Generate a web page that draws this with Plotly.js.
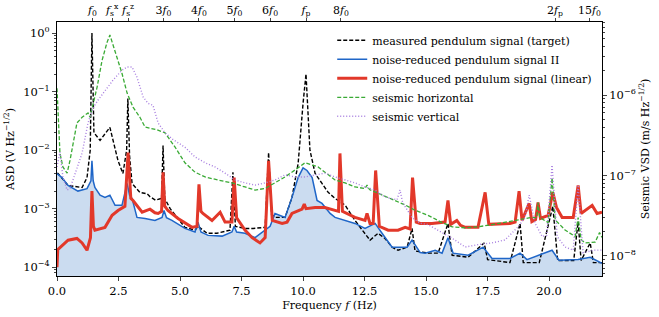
<!DOCTYPE html>
<html><head><meta charset="utf-8">
<script src="https://cdn.plot.ly/plotly-3.0.1.min.js"></script>
<style>html,body{margin:0;padding:0;background:#fff}#chart{width:659px;height:317px}</style>
</head><body><div id="chart"></div>
<script>
// ---- data (frequency in Hz) ----
const measuredF = [0.0,0.04,0.45,1.02,1.22,1.35,1.42,1.50,1.54,1.75,2.15,2.48,2.68,2.83,2.88,2.95,3.05,3.37,3.66,3.78,4.0,4.25,4.31,4.38,4.6,4.92,5.2,5.61,5.73,6.1,6.5,7.03,7.15,7.25,7.64,7.97,8.46,8.6,8.72,8.86,9.27,9.55,9.8,10.0,10.12,10.28,10.49,10.77,11.02,11.3,11.71,12.11,12.4,12.72,13.05,13.33,13.62,13.86,14.23,14.43,14.55,15.08,15.49,15.89,16.06,16.71,17.36,17.5,18.41,18.82,18.95,19.6,20.15,20.35,21.0,21.18,21.3,21.67,21.8,22.15];
const measuredV = [0.0040,0.0040,0.0025,0.0023,0.0034,0.01,1.0,0.02,0.019,0.0147,0.0245,0.0066,0.0040,0.01,0.076,0.008,0.0027,0.0019,0.0018,0.0016,0.0014,0.0015,0.012,0.0015,0.0010,0.00068,0.00048,0.00043,0.0005,0.00038,0.00038,0.00043,0.0042,0.0005,0.00046,0.00046,0.00048,0.0091,0.0008,0.00071,0.00071,0.00156,0.0059,0.063,0.20,0.010,0.0040,0.0027,0.0019,0.0015,0.00115,0.00063,0.00043,0.00029,0.00038,0.00031,0.00022,0.000195,0.00022,0.00046,0.00019,0.000174,0.000174,0.00056,0.00016,0.000148,0.00026,0.000135,0.00012,0.00056,0.00012,0.00012,0.0011,0.00013,0.00013,0.0006,0.00013,0.00026,0.00012,0.00012];

const reducedIIF = [0.0,0.2,0.45,0.85,1.22,1.38,1.42,1.47,1.54,1.75,1.95,2.15,2.36,2.64,2.85,2.95,3.05,3.25,3.58,3.98,4.27,4.35,4.45,4.67,5.2,5.61,5.73,5.85,6.14,6.71,7.11,7.2,7.3,7.64,8.05,8.46,8.66,8.86,9.27,9.55,9.8,10.0,10.16,10.37,10.57,10.77,11.1,11.3,11.71,12.11,12.52,12.93,13.21,13.62,14.23,14.43,14.76,14.96,15.37,15.65,15.89,16.1,16.71,17.32,17.68,18.41,18.82,19.1,20.12,20.4,21.18,21.67,22.15];
const reducedIIV = [0.0040,0.0034,0.0025,0.0020,0.0022,0.0030,0.0066,0.0030,0.0023,0.0017,0.00156,0.0017,0.00114,0.00114,0.0027,0.0017,0.0015,0.00071,0.00068,0.00063,0.00071,0.00093,0.0007,0.00063,0.00046,0.0004,0.00059,0.0004,0.00035,0.00034,0.0004,0.0005,0.0004,0.00038,0.00032,0.00043,0.0005,0.00083,0.00071,0.00156,0.0034,0.005,0.0045,0.0034,0.00138,0.00123,0.00083,0.00071,0.00063,0.00056,0.00046,0.00056,0.00038,0.00022,0.00022,0.00029,0.000178,0.000174,0.000195,0.000174,0.00032,0.000174,0.00016,0.00022,0.000141,0.000141,0.000174,0.000135,0.000195,0.000132,0.000135,0.000148,0.000117];

const linearF = [0.0,0.03,0.45,0.81,1.02,1.22,1.36,1.42,1.48,1.54,1.95,2.24,2.48,2.76,2.89,3.0,3.09,3.46,3.78,3.98,4.11,4.25,4.31,4.38,4.51,4.92,5.49,5.69,5.77,5.85,5.93,6.3,6.63,6.83,7.11,7.2,7.3,7.64,7.93,8.25,8.46,8.6,8.75,9.15,9.35,9.55,9.96,10.05,10.12,10.49,10.89,11.3,11.44,11.5,11.6,12.11,12.52,12.6,12.72,12.85,12.95,13.1,13.46,13.86,14.15,14.35,14.45,14.6,14.76,15.24,15.77,15.89,16.0,16.25,16.4,16.59,17.11,17.4,17.55,18.41,18.62,18.78,18.9,19.19,19.3,19.45,19.55,19.65,19.96,20.15,20.3,20.53,20.98,21.18,21.3,21.75,21.95,22.15];
const linearV = [0.0001,0.0002,0.00029,0.00031,0.00026,0.000195,0.00032,0.002,0.0005,0.00043,0.00048,0.00077,0.00093,0.0011,0.0091,0.0015,0.00138,0.00087,0.00098,0.00085,0.00083,0.0009,0.0042,0.0011,0.00093,0.00068,0.00048,0.0005,0.0026,0.0009,0.00083,0.00063,0.00087,0.00059,0.00059,0.0034,0.0007,0.00043,0.00032,0.00026,0.00032,0.0066,0.00063,0.00056,0.00059,0.00083,0.00098,0.0012,0.001,0.00105,0.00105,0.00093,0.0009,0.0088,0.0009,0.00071,0.00063,0.00083,0.00056,0.00056,0.0045,0.0005,0.00043,0.00043,0.00048,0.00045,0.0034,0.00059,0.00056,0.00056,0.00059,0.00138,0.00054,0.00063,0.00052,0.00048,0.00048,0.0019,0.00054,0.00056,0.00059,0.002,0.00063,0.00123,0.0006,0.00065,0.00128,0.00068,0.00077,0.0019,0.00105,0.00071,0.00071,0.0025,0.00083,0.00114,0.00083,0.00087];

const seisHorF = [0.0,0.12,0.24,0.41,0.53,0.81,1.02,1.26,1.34,1.63,1.83,2.03,2.15,2.36,2.64,2.85,3.09,3.37,3.58,4.07,4.39,4.8,5.2,5.61,6.02,6.54,7.11,7.64,8.05,8.46,8.86,9.27,9.67,10.08,10.37,10.61,10.89,11.3,11.71,12.11,12.52,12.6,12.7,13.05,13.62,14.15,14.55,15.08,15.65,16.06,16.59,17.11,17.68,18.21,18.74,19.23,19.5,19.55,19.62,19.96,20.12,20.25,20.65,21.06,21.18,21.3,21.46,21.87,22.05,22.15];
const seisHorV = [1.22e-6,1.9e-7,1.28e-7,1.07e-7,1.55e-7,4.5e-7,5.3e-7,6.0e-7,5.3e-7,1.26e-6,2.7e-6,4.5e-6,5.6e-6,3.6e-6,1.87e-6,1.06e-6,7.1e-7,5.3e-7,4.0e-7,3.7e-7,3.4e-7,2.25e-7,1.44e-7,1.1e-7,9.6e-8,8.8e-8,8.1e-8,7.2e-8,6.6e-8,6.9e-8,8.1e-8,9.6e-8,1.17e-7,1.44e-7,1.35e-7,1.28e-7,1.1e-7,8.8e-8,8.1e-8,7.2e-8,6.9e-8,7.6e-8,6.7e-8,6.0e-8,5.0e-8,4.3e-8,3.7e-8,3.2e-8,2.6e-8,2.3e-8,2.24e-8,2.3e-8,2.45e-8,2.6e-8,2.8e-8,3.0e-8,3.0e-8,4.6e-8,3.0e-8,2.6e-8,9.3e-8,2.8e-8,2.1e-8,1.74e-8,3.0e-8,1.6e-8,1.45e-8,1.48e-8,1.95e-8,1.7e-8];

const seisVerF = [0.0,0.12,0.24,0.41,0.53,0.73,1.02,1.26,1.46,1.67,1.95,2.28,2.64,2.85,3.05,3.25,3.5,3.7,3.9,4.11,4.39,4.72,5.2,5.61,6.02,6.42,6.83,7.24,7.64,8.05,8.46,8.86,9.27,9.67,10.08,10.49,10.89,11.3,11.71,12.11,12.52,12.93,13.33,13.82,13.94,14.05,14.15,14.43,14.76,15.08,15.65,16.06,16.59,17.11,17.68,18.21,18.74,19.02,19.19,19.43,19.72,19.9,20.12,20.33,20.65,20.98,21.18,21.38,21.87,22.15];
const seisVerV = [1.28e-7,1.95e-7,9.6e-8,6.6e-8,6.9e-8,1.07e-7,1.9e-7,4.5e-7,6.9e-7,8.7e-7,1.15e-6,1.54e-6,2.04e-6,2.24e-6,2.24e-6,1.67e-6,9.5e-7,7.9e-7,7.5e-7,4.5e-7,3.4e-7,2.8e-7,2.25e-7,1.7e-7,1.44e-7,1.28e-7,1.07e-7,8.8e-8,8.1e-8,7.6e-8,8.1e-8,8.8e-8,1.02e-7,9.6e-8,9.6e-8,1.02e-7,1.07e-7,9.6e-8,8.8e-8,8.1e-8,7.2e-8,6.6e-8,5.4e-8,5.0e-8,6.6e-8,4.6e-8,4.1e-8,3.0e-8,2.55e-8,2.45e-8,1.95e-8,1.66e-8,1.29e-8,1.38e-8,1.45e-8,1.58e-8,2.3e-8,3.0e-8,5.7e-8,2.55e-8,1.74e-8,1.8e-8,1.35e-7,1.74e-8,1.29e-8,1.18e-8,7.6e-8,1.10e-8,1.18e-8,1.18e-8];

const seriesNames = ["measured pendulum signal (target)","noise-reduced pendulum signal II","noise-reduced pendulum signal (linear)","seismic horizontal","seismic vertical"];

const topTickVals = [1.443,2.24,2.89,4.33,5.77,7.21,8.66,10.12,11.54,20.24,21.64];
const topTickText = ["<i>f</i><sub>0</sub>","<i>f</i><sub>s</sub><sup>x</sup>","<i>f</i><sub>s</sub><sup>z</sup>","3<i>f</i><sub>0</sub>","4<i>f</i><sub>0</sub>","5<i>f</i><sub>0</sub>","6<i>f</i><sub>0</sub>","<i>f</i><sub>p</sub>","8<i>f</i><sub>0</sub>","2<i>f</i><sub>p</sub>","15<i>f</i><sub>0</sub>"];
const bottomTickVals = [0,2.5,5,7.5,10,12.5,15,17.5,20];
const bottomTickText = ["0.0","2.5","5.0","7.5","10.0","12.5","15.0","17.5","20.0"];
const leftTickVals = [1e-4,1e-3,1e-2,1e-1,1];
const leftTickText = ["10<sup>−4</sup>","10<sup>−3</sup>","10<sup>−2</sup>","10<sup>−1</sup>","10<sup>0</sup>"];
const rightTickVals = [1e-8,1e-7,1e-6];
const rightTickText = ["10<sup>−8</sup>","10<sup>−7</sup>","10<sup>−6</sup>"];

function minorLog(lo, hi){ const out=[]; for(let e=lo;e<=hi;e++){ for(let m=2;m<=9;m++){ out.push(m*Math.pow(10,e)); } } return out; }

const FONT = "DejaVu Serif";

const traces = [
  {x: reducedIIF, y: reducedIIV, type:'scatter', mode:'lines', fill:'tozeroy', fillcolor:'rgba(160,192,228,0.55)', line:{width:0, color:'rgba(0,0,0,0)'}, showlegend:false, hoverinfo:'skip', xaxis:'x', yaxis:'y'},
  {x: measuredF, y: measuredV, name: seriesNames[0], type:'scatter', mode:'lines', line:{color:'#000000', width:1.4, dash:'4px,2px'}, xaxis:'x', yaxis:'y'},
  {x: reducedIIF, y: reducedIIV, name: seriesNames[1], type:'scatter', mode:'lines', line:{color:'#1f66c8', width:1.5}, xaxis:'x', yaxis:'y'},
  {x: linearF, y: linearV, name: seriesNames[2], type:'scatter', mode:'lines', line:{color:'#e2382a', width:3}, xaxis:'x', yaxis:'y'},
  {x: seisHorF, y: seisHorV, name: seriesNames[3], type:'scatter', mode:'lines', line:{color:'#3aaa35', width:1.3, dash:'4px,2px'}, xaxis:'x', yaxis:'y2'},
  {x: seisVerF, y: seisVerV, name: seriesNames[4], type:'scatter', mode:'lines', line:{color:'#a87fe0', width:1.4, dash:'1px,2px'}, xaxis:'x', yaxis:'y2'},
  {x: [topTickVals[0]], y: [1e-3], type:'scatter', mode:'markers', marker:{opacity:0}, showlegend:false, hoverinfo:'skip', xaxis:'x2', yaxis:'y'}
];

const layout = {
  width: 659, height: 317,
  margin: {l:57, r:57, t:22, b:41},
  paper_bgcolor:'#fff', plot_bgcolor:'#fff',
  font: {family: FONT, size: 11, color:'#000'},
  showlegend: true,
  legend: {x: 0.505, y: 0.985, xanchor:'left', yanchor:'top', bgcolor:'rgba(255,255,255,0)', borderwidth:0, font:{family:FONT, size:11}, tracegroupgap:0, itemwidth:30},
  xaxis: {range:[0,22.15], tickmode:'array', tickvals: bottomTickVals, ticktext: bottomTickText, ticks:'outside', ticklen:4, showgrid:false, zeroline:false, showline:true, linecolor:'#000', linewidth:1, mirror:false, tickfont:{family:FONT,size:11.5},
          title:{text:'Frequency <i>f</i> (Hz)', standoff:4, font:{family:FONT,size:11}}},
  xaxis2: {overlaying:'x', side:'top', range:[0,22.15], tickmode:'array', tickvals: topTickVals, ticktext: topTickText, ticks:'outside', ticklen:3, showgrid:false, zeroline:false, showline:true, linecolor:'#000', linewidth:1, tickfont:{family:FONT,size:11}},
  yaxis: {type:'log', range:[-4.15,0.19], tickmode:'array', tickvals:leftTickVals, ticktext:leftTickText, ticks:'outside', ticklen:4, showgrid:false, zeroline:false, showline:true, linecolor:'#000', linewidth:1, tickfont:{family:FONT,size:11.5},
          minor:{tickmode:'array', tickvals: minorLog(-5,0), ticks:'outside', ticklen:2, showgrid:false},
          title:{text:'ASD (V Hz<sup>−1/2</sup>)', standoff:6, font:{family:FONT,size:11}}},
  yaxis2: {type:'log', overlaying:'y', side:'right', range:[-8.25,-5.09], tickmode:'array', tickvals:rightTickVals, ticktext:rightTickText, ticks:'outside', ticklen:4, showgrid:false, zeroline:false, showline:true, linecolor:'#000', linewidth:1, tickfont:{family:FONT,size:11.5},
          minor:{tickmode:'array', tickvals: minorLog(-9,-6), ticks:'outside', ticklen:2, showgrid:false},
          title:{text:'Seismic VSD (m/s Hz<sup>−1/2</sup>)', standoff:6, font:{family:FONT,size:11}}}
};

Plotly.newPlot('chart', traces, layout, {displayModeBar:false, staticPlot:true});
</script></body></html>
